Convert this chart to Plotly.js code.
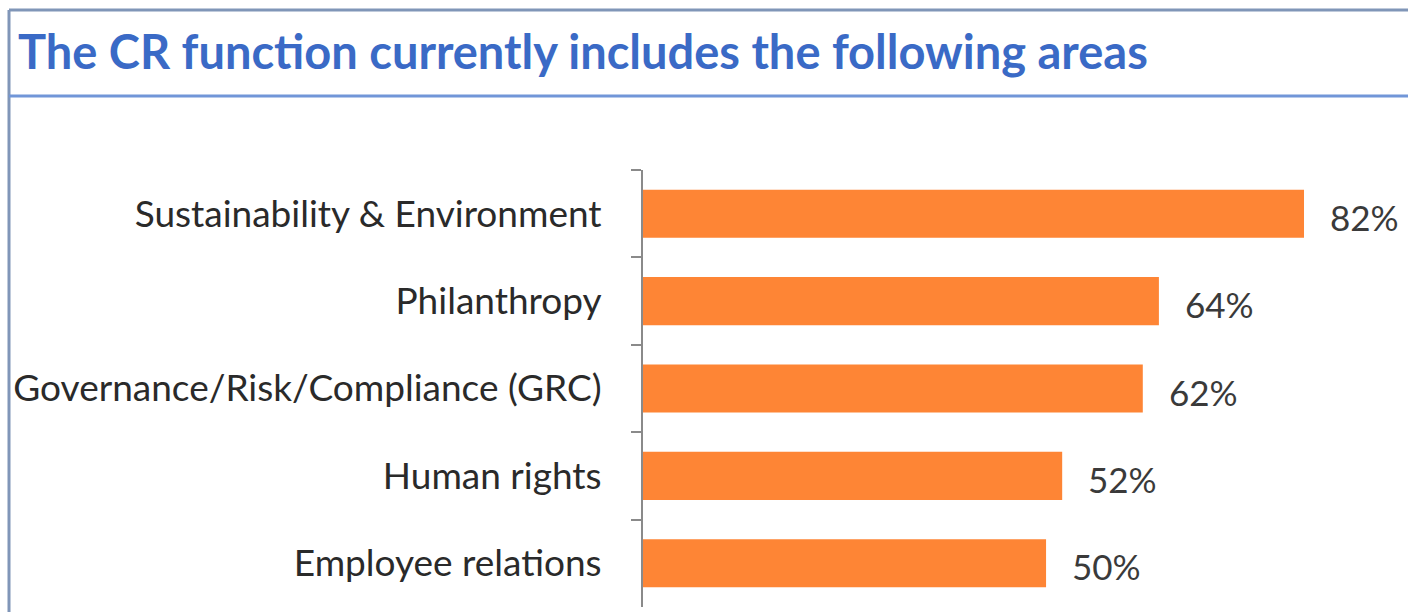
<!DOCTYPE html>
<html>
<head>
<meta charset="utf-8">
<script src="https://cdn.plot.ly/plotly-3.0.1.min.js"></script>
<style>html,body{margin:0;padding:0;background:#fff}#chart{width:1408px;height:612px}</style>
</head>
<body>
<div id="chart"></div>
<script>
const categories = ["Sustainability & Environment", "Philanthropy", "Governance/Risk/Compliance (GRC)", "Human rights", "Employee relations"];
const values = [82, 64, 62, 52, 50];
const valueLabels = values.map(v => v + "%");
const chartTitle = "The CR function currently includes the following areas";

const W = 1408, H = 612;
const trace = {
  type: "bar",
  orientation: "h",
  y: categories,
  x: values,
  marker: {color: "#FE8535", line: {width: 0}},
  width: 0.55,
  hoverinfo: "skip"
};

const annotations = categories.map((c, i) => ({
  x: values[i], y: c, xref: "x", yref: "y",
  text: valueLabels[i], showarrow: false,
  xanchor: "left", yanchor: "middle", xshift: 24, yshift: -3,
  font: {family: "Lato, 'Open Sans', sans-serif", size: 35, color: "#3a3a3a"}
}));

const layout = {
  width: W, height: H,
  margin: {l: 643, r: 0, t: 170, b: 5, pad: 0},
  paper_bgcolor: "#ffffff",
  plot_bgcolor: "#ffffff",
  showlegend: false,
  title: {
    text: chartTitle,
    x: 18 / W, xanchor: "left", xref: "container",
    y: 1 - 53 / H, yanchor: "middle", yref: "container",
    font: {family: "Lato, 'Open Sans', sans-serif", size: 47, color: "#3A6AC6", weight: "bold"}
  },
  xaxis: {range: [0, 94.9], visible: false, fixedrange: true},
  yaxis: {
    autorange: "reversed",
    showline: true, linecolor: "#8a8a8a", linewidth: 2,
    ticks: "outside", ticklen: 10, tickcolor: "#8a8a8a", tickwidth: 2,
    tickson: "boundaries",
    ticklabelstandoff: 32,
    tickfont: {family: "Lato, 'Open Sans', sans-serif", size: 37, color: "#2a2a2a"},
    showgrid: false, zeroline: false, fixedrange: true
  },
  annotations: annotations,
  shapes: [
    {type: "line", xref: "paper", yref: "paper", x0: (9 - 643) / (W - 643), x1: 1, y0: 1 + (170 - 10) / 437, y1: 1 + (170 - 10) / 437, line: {color: "#8096B8", width: 3}},
    {type: "line", xref: "paper", yref: "paper", x0: (9 - 643) / (W - 643), x1: (9 - 643) / (W - 643), y0: 1 + (170 - 10) / 437, y1: -5 / 437, line: {color: "#8096B8", width: 3}},
    {type: "line", xref: "paper", yref: "paper", x0: (9 - 643) / (W - 643), x1: 1, y0: 1 + (170 - 96) / 437, y1: 1 + (170 - 96) / 437, line: {color: "#7196D8", width: 3}}
  ]
};

Plotly.newPlot("chart", [trace], layout, {displayModeBar: false, staticPlot: true});
</script>
</body>
</html>
